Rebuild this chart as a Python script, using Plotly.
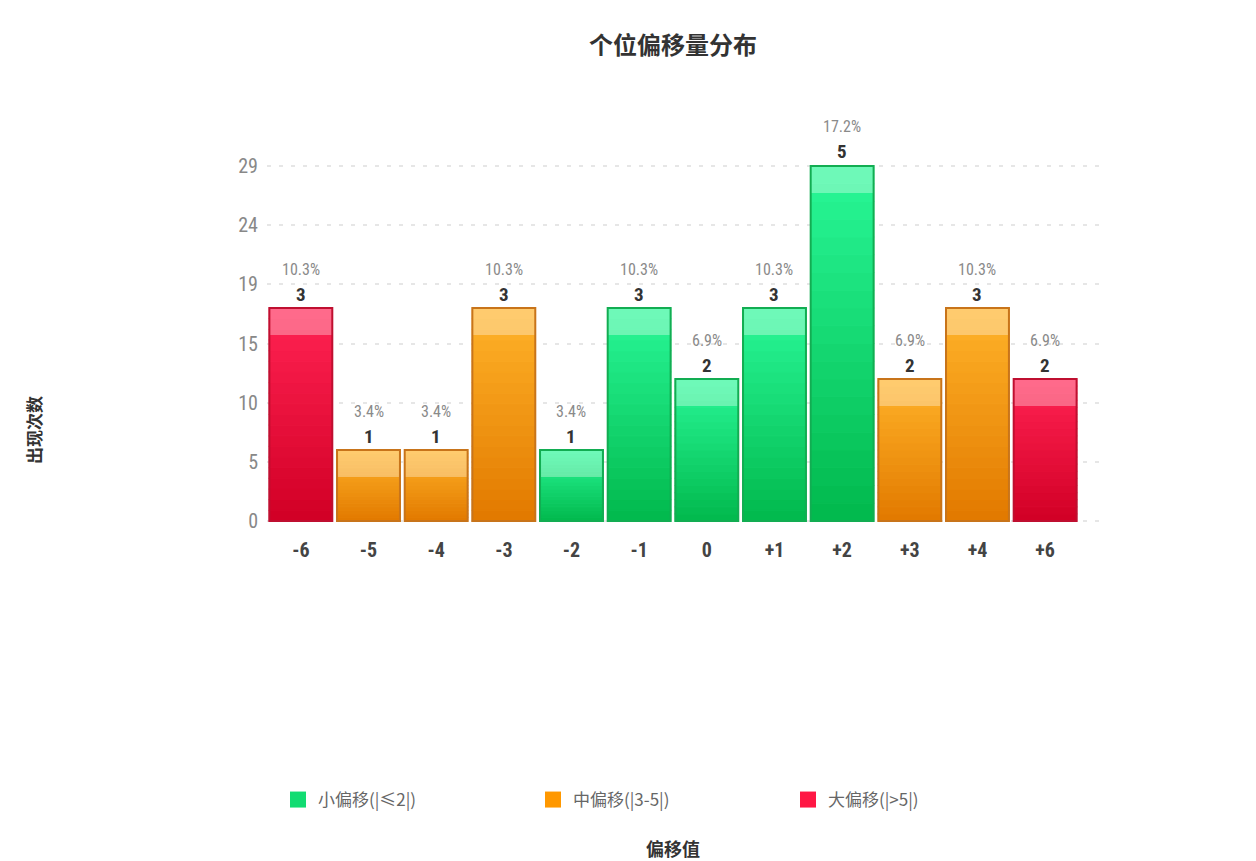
import plotly.graph_objects as go

# ---- data ----
categories = ["-6", "-5", "-4", "-3", "-2", "-1", "0", "+1", "+2", "+3", "+4", "+6"]
counts = [3, 1, 1, 3, 1, 3, 2, 3, 5, 2, 3, 2]
groups = ["big", "mid", "mid", "mid", "small", "small", "small", "small", "small", "mid", "mid", "big"]
ytick_labels = ["0", "5", "10", "15", "19", "24", "29"]
legend_names = {"small": "小偏移(|≤2|)", "mid": "中偏移(|3-5|)", "big": "大偏移(|>5|)"}

total = sum(counts)
pcts = [f"{c / total * 100:.1f}%" for c in counts]

# ---- styling ----
NUM = "'Liberation Sans Narrow', 'Roboto Condensed', Roboto, sans-serif"
CJK = "'Noto Sans CJK SC', sans-serif"
top_col = {"small": (40, 246, 150), "mid": (255, 178, 40), "big": (255, 34, 82)}
bot_col = {"small": (2, 186, 78), "mid": (226, 122, 0), "big": (210, 0, 38)}
edge_col = {"small": "#12ad52", "mid": "#c8741a", "big": "#bf0f30"}
legend_col = {"small": "#12dc72", "mid": "#ff9800", "big": "#ff1744"}
BAR_W = 0.93
N_SEG = 20
HL = 0.38


def mix(a, b, t):
    return "rgb(%d,%d,%d)" % tuple(round(a[i] + (b[i] - a[i]) * t) for i in range(3))


fig = go.Figure()

# gradient fill: each bar split into stacked slices of itself
for k in range(N_SEG):
    t = k / (N_SEG - 1)
    cols = [mix(bot_col[g], top_col[g], t) for g in groups]
    fig.add_trace(go.Bar(
        x=categories, y=[c / N_SEG for c in counts], base=[c * k / N_SEG for c in counts],
        width=BAR_W, marker=dict(color=cols, line=dict(color=cols, width=1.2)),
        showlegend=False, hoverinfo="skip"))

# glossy highlight band at top of each bar
fig.add_trace(go.Bar(
    x=categories, y=[HL] * len(counts), base=[c - HL for c in counts],
    width=BAR_W, marker=dict(color="rgba(255,255,255,0.33)", line=dict(width=0)),
    showlegend=False, hoverinfo="skip"))

# outline
fig.add_trace(go.Bar(
    x=categories, y=counts, width=BAR_W,
    marker=dict(color="rgba(0,0,0,0)", line=dict(color=[edge_col[g] for g in groups], width=2)),
    showlegend=False, hovertemplate="%{x}: %{y}<extra></extra>"))

# legend entries
for g in ["small", "mid", "big"]:
    fig.add_trace(go.Scatter(
        x=[None], y=[None], mode="markers", name=legend_names[g],
        marker=dict(symbol="square", size=22, color=legend_col[g])))

# value labels (count + percentage) above each bar; x given as category index
label_annots = []
for i, (c, p) in enumerate(zip(counts, pcts)):
    label_annots.append(dict(x=i, y=c, xref="x", yref="y", text=f"<b>{c}</b>", showarrow=False,
                             xanchor="center", yanchor="middle", yshift=14,
                             font=dict(family=NUM, size=19, color="#333")))
    label_annots.append(dict(x=i, y=c, xref="x", yref="y", text=p, showarrow=False,
                             xanchor="center", yanchor="middle", yshift=39,
                             font=dict(family=NUM, size=16, color="#8a8a8a")))

W, H = 1256, 861
PAD = 0.028
L, R = 267, 1107
T, B = 166 - 2, 521 + 2

fig.update_layout(
    width=W, height=H, barmode="overlay", plot_bgcolor="white", paper_bgcolor="white",
    margin=dict(l=L, r=W - R, t=T, b=H - B, autoexpand=False),
    font=dict(family=NUM, color="#666"),
    title=dict(text="<b>个位偏移量分布</b>", x=673 / W, xanchor="center", y=1 - 46 / H, yanchor="middle",
               xref="container", yref="container", font=dict(family=CJK, size=24, color="#333")),
    showlegend=True,
    legend=dict(orientation="h", xref="container", yref="container", x=278 / W, xanchor="left",
                y=1 - 800 / H, yanchor="middle", entrywidth=210, entrywidthmode="pixels",
                font=dict(family=CJK, size=17, color="#666"), itemsizing="trace"),
    xaxis=dict(type="category", range=[-0.5, 11.5 + (R - 1079) / 67.6], showgrid=False, zeroline=False,
               showline=False, ticks="", ticklabelstandoff=13,
               tickfont=dict(family=NUM, size=20, color="#444", weight="bold"), fixedrange=True),
    yaxis=dict(range=[-PAD, 5 + PAD], tickvals=[i * 5 / 6 for i in range(7)], ticktext=ytick_labels,
               showgrid=True, gridcolor="#e6e6e6", griddash="4px,8px", gridwidth=1.5,
               zeroline=False, showline=False, ticks="", ticklabelstandoff=8,
               tickfont=dict(family=NUM, size=20, color="#888"), fixedrange=True),
    annotations=label_annots + [
        dict(text="<b>偏移值</b>", x=(673 - L) / (R - L), y=-(848 - B) / (B - T), xref="paper", yref="paper",
             xanchor="center", yanchor="middle",
             showarrow=False, font=dict(family=CJK, size=18, color="#333")),
        dict(text="<b>出现次数</b>", x=-(L - 33) / (R - L), y=(B - 430) / (B - T), xref="paper", yref="paper",
             xanchor="center", yanchor="middle",
             showarrow=False, textangle=-90, font=dict(family=CJK, size=17, color="#333")),
    ],
)

fig.write_html("out.html")
